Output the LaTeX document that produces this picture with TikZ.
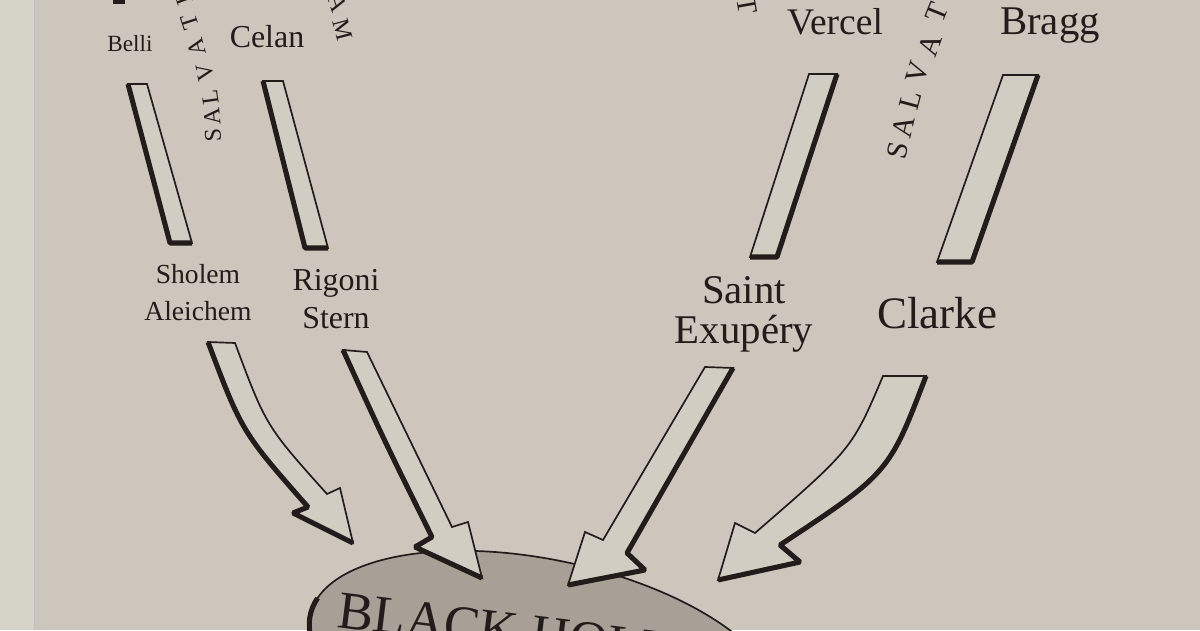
\documentclass[tikz,border=0pt]{standalone}
\usepackage{fontspec}
\setmainfont{Liberation Serif}
\definecolor{paper}{RGB}{204,198,188}
\definecolor{gutter}{RGB}{214,212,201}
\definecolor{ink}{RGB}{34,28,26}
\definecolor{holegray}{RGB}{166,160,151}
\definecolor{barfill}{RGB}{210,205,195}
\begin{document}
\begin{tikzpicture}[x=0.025cm, y=-0.025cm, line join=miter,
    lbl/.style 2 args={font=\fontsize{#1}{#2}\selectfont, text=ink, inner sep=0pt, anchor=base, align=center},
    arcl/.style={font=\fontsize{#1}{#1}\selectfont, text=ink, inner sep=0pt},
    bar/.style={draw=ink, fill=barfill, line width=1.2pt},
    heavy/.style={draw=ink, line width=3.6pt, line cap=butt, line join=bevel}]
  \clip (0,0) rectangle (1200,630);
  % page
  \fill[paper] (0,0) rectangle (1200,630);
  \fill[gutter] (0,0) rectangle (35,630);
  \draw[black!25, line width=0.6pt] (34,0) -- (34,630);
  % black hole
  \begin{scope}[shift={(545,665)}, rotate=-12]
    \draw[draw=ink, fill=holegray, line width=1.2pt] (0,0) ellipse [x radius=240, y radius=105];
    \draw[heavy] (145:240 and 105) arc [start angle=145, end angle=190, x radius=240, y radius=105];
  \end{scope}
  \node[font=\fontsize{38}{38}\selectfont, text=ink, inner sep=0pt, anchor=base west, rotate=-7] (hole) at (336,627) {BLACK HOLE};
  % upper bars
  \fill[ink] (113,-2) rectangle (125,4);
  \draw[bar] (128,84) -- (147,84) -- (192,243) -- (170,243) -- cycle;
  \draw[heavy] (128,84) -- (170,243) -- (192,243);
  \draw[bar] (263,81) -- (283,81) -- (328,248) -- (305,248) -- cycle;
  \draw[heavy] (263,81) -- (305,248) -- (328,248);
  \draw[bar] (809,74) -- (837,74) -- (777,257) -- (750,257) -- cycle;
  \draw[heavy] (837,74) -- (777,257) -- (750,257);
  \draw[bar] (1003,75) -- (1038,75) -- (972,262) -- (937,262) -- cycle;
  \draw[heavy] (1038,75) -- (972,262) -- (937,262);
  % arrows into the hole
  \draw[bar] (208,342) -- (235,343) .. controls (266,426) .. (327,494) -- (340,488) -- (353,543) -- (293,513) -- (308,507) .. controls (242,432) .. (208,342) -- cycle;
  \draw[heavy] (208,342) .. controls (242,432) .. (308,507) -- (293,513) -- (353,543);
  \draw[bar] (343,350) -- (367,352) .. controls (409,440) .. (452,527) -- (468,522) -- (482,578) -- (415,547) -- (432,537) .. controls (384,440) .. (343,350) -- cycle;
  \draw[heavy] (343,350) .. controls (384,440) .. (432,537) -- (415,547) -- (482,578);
  \draw[bar] (705,367) -- (733,368) -- (627,553) -- (645,570) -- (568,585) -- (585,532) -- (603,540) -- cycle;
  \draw[heavy] (733,368) -- (627,553) -- (645,570) -- (568,585);
  \draw[bar] (883,376) -- (926,376) .. controls (889,473) .. (780,545) -- (800,562) -- (718,580) -- (735,523) -- (755,533) .. controls (852,449) .. (883,376) -- cycle;
  \draw[heavy] (926,376) .. controls (889,473) .. (780,545) -- (800,562) -- (718,580);
  % names
  \node[lbl={16.5}{18}] (belli) at (130,52) {Belli};
  \node[lbl={22.7}{24}] (celan) at (267,48) {Celan};
  \node[lbl={26.7}{28}] (vercel) at (835,35) {Vercel};
  \node[lbl={29}{30}] (bragg) at (1050,35) {Bragg};
  \node[lbl={19.6}{26.2}] (sholem) at (198,320) {Sholem\\Aleichem};
  \node[lbl={22.7}{27}] (rigoni) at (336,328) {Rigoni\\Stern};
  \node[lbl={29}{28.3}] (saint) at (744,343) {Saint\\Exupéry};
  \node[lbl={32}{33}] (clarke) at (937,328) {Clarke};
  % lettering on the arcs
  \foreach \ch/\px/\py/\ang [count=\i] in {S/213/135/93, A/212/117/95, L/210/97/98, V/205/72/101, A/197/47/105, T/190/22/108, I/185/0/110}
    \node[arcl=17, rotate=\ang] (salvL\i) at (\px,\py) {\ch};
  \foreach \ch/\px/\py/\ang [count=\i] in {S/898/150/78, A/903/127/77, L/910/100/75, V/918/73/73, A/930/45/70, T/937/13/68}
    \node[arcl=21, rotate=\ang] (salvR\i) at (\px,\py) {\ch};
  \node[arcl=17, rotate=-75] (arcM) at (343,30) {M};
  \node[arcl=17, rotate=-72] (arcA) at (338,3) {A};
  \node[arcl=20, rotate=-80] (arcT) at (747,5) {T};
\end{tikzpicture}
\end{document}
